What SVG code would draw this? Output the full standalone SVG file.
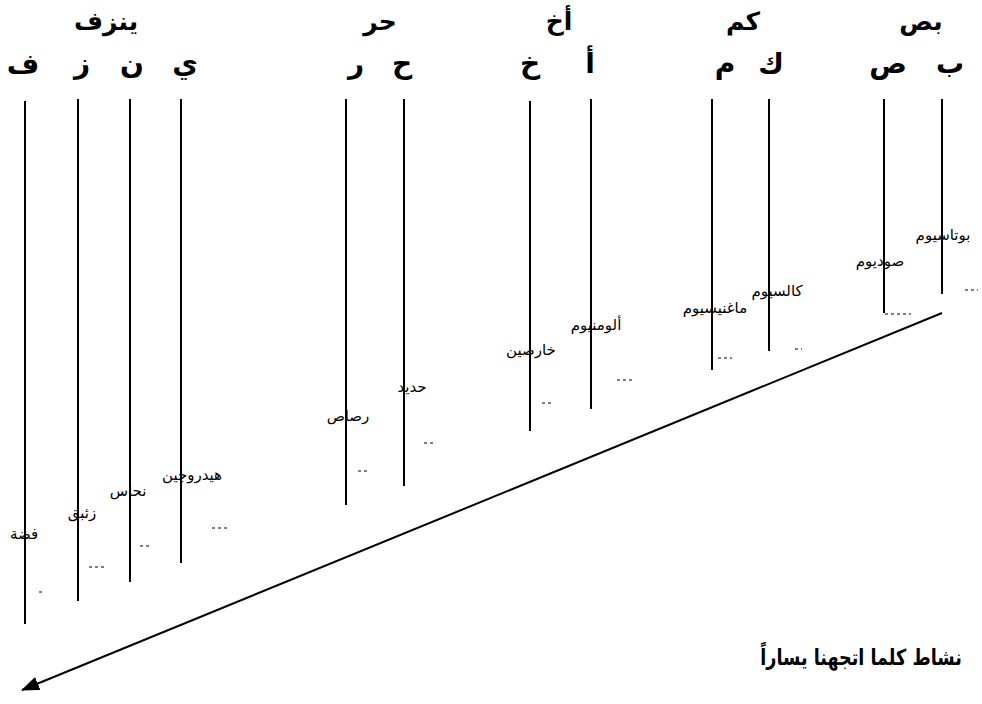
<svg xmlns="http://www.w3.org/2000/svg" width="982" height="704" viewBox="0 0 982 704">
<defs>
<style>
.h1{font-family:"DejaVu Sans","Noto Sans",sans-serif;font-weight:bold;font-size:25px;fill:#000;text-anchor:middle}
.hd{font-family:"DejaVu Sans","Noto Sans",sans-serif;font-weight:bold;font-size:28px;fill:#000;text-anchor:middle}
.lb{font-family:"DejaVu Sans","Noto Sans",sans-serif;font-size:15px;fill:#000;text-anchor:middle}
.ft{font-family:"DejaVu Sans","Noto Sans",sans-serif;font-weight:bold;font-size:22px;fill:#000;text-anchor:middle}
.ln{stroke:#000;stroke-width:2;fill:none}
.dm{stroke:#000;stroke-width:1;fill:none;stroke-dasharray:3 3}
</style>
<marker id="ah" markerWidth="18" markerHeight="14" refX="17" refY="7" orient="auto" markerUnits="userSpaceOnUse" viewBox="0 0 18 14">
<path d="M0,0 L18,7 L0,14 Z" fill="#000"/>
</marker>
</defs>
<rect width="982" height="704" fill="#fff"/>
<g id="headers">
<text class="h1" x="106" y="30">ينزف</text>
<text class="h1" x="380" y="30">حر</text>
<text class="h1" x="559" y="30">أخ</text>
<text class="h1" x="743" y="30">كم</text>
<text class="h1" x="921" y="30">بص</text>
<text class="hd" x="23" y="73">ف</text>
<text class="hd" x="82" y="73">ز</text>
<text class="hd" x="132" y="73">ن</text>
<text class="hd" x="185" y="73">ي</text>
<text class="hd" x="356" y="73">ر</text>
<text class="hd" x="402" y="73">ح</text>
<text class="hd" x="530" y="73">خ</text>
<text class="hd" x="590" y="73">أ</text>
<text class="hd" x="725" y="73">م</text>
<text class="hd" x="771" y="73">ك</text>
<text class="hd" x="888" y="73">ص</text>
<text class="hd" x="950" y="73">ب</text>
</g>
<g id="n-silver"><line class="ln" x1="25" y1="101" x2="25" y2="624"/><text class="lb" x="24" y="539">فضة</text></g>
<g id="n-mercury"><line class="ln" x1="78" y1="99" x2="78" y2="601"/><text class="lb" x="82" y="518">زئبق</text></g>
<g id="n-copper"><line class="ln" x1="130" y1="99" x2="130" y2="582"/><text class="lb" x="128" y="496">نحاس</text></g>
<g id="n-hydrogen"><line class="ln" x1="181" y1="99" x2="181" y2="563"/><text class="lb" x="192" y="480">هيدروجين</text></g>
<g id="n-lead"><line class="ln" x1="346" y1="99" x2="346" y2="505"/><text class="lb" x="348" y="421">رصاص</text></g>
<g id="n-iron"><line class="ln" x1="404" y1="99" x2="404" y2="486"/><text class="lb" x="412" y="392">حديد</text></g>
<g id="n-zinc"><line class="ln" x1="530" y1="101" x2="530" y2="431"/><text class="lb" x="531" y="355">خارصين</text></g>
<g id="n-aluminium"><line class="ln" x1="591" y1="99" x2="591" y2="409"/><text class="lb" x="596" y="330">ألومنيوم</text></g>
<g id="n-magnesium"><line class="ln" x1="712" y1="99" x2="712" y2="370"/><text class="lb" x="715" y="313">ماغنيسيوم</text></g>
<g id="n-calcium"><line class="ln" x1="769" y1="99" x2="769" y2="351"/><text class="lb" x="777" y="296">كالسيوم</text></g>
<g id="n-sodium"><line class="ln" x1="884" y1="99" x2="884" y2="313"/><text class="lb" x="880" y="266">صوديوم</text></g>
<g id="n-potassium"><line class="ln" x1="942" y1="99" x2="942" y2="294"/><text class="lb" x="943" y="240">بوتاسيوم</text></g>
<g id="marks">
<line class="dm" x1="965" y1="290" x2="978" y2="290"/>
<line class="dm" x1="885" y1="314" x2="911" y2="314"/>
<line class="dm" x1="795" y1="349" x2="802" y2="349"/>
<line class="dm" x1="718" y1="358" x2="732" y2="358"/>
<line class="dm" x1="617" y1="380" x2="632" y2="380"/>
<line class="dm" x1="542" y1="403" x2="553" y2="403"/>
<line class="dm" x1="424" y1="443" x2="435" y2="443"/>
<line class="dm" x1="358" y1="471" x2="369" y2="471"/>
<line class="dm" x1="212" y1="528" x2="227" y2="528"/>
<line class="dm" x1="140" y1="546" x2="150" y2="546"/>
<line class="dm" x1="89" y1="567" x2="104" y2="567"/>
<line class="dm" x1="39" y1="592" x2="42" y2="592"/>
</g>
<g id="connectors">
<line class="ln" x1="942" y1="313" x2="22" y2="690" marker-end="url(#ah)"/>
</g>
<text class="ft" transform="translate(861,665) scale(0.8,1)" x="0" y="0">نشاط كلما اتجهنا يساراً</text>
</svg>
